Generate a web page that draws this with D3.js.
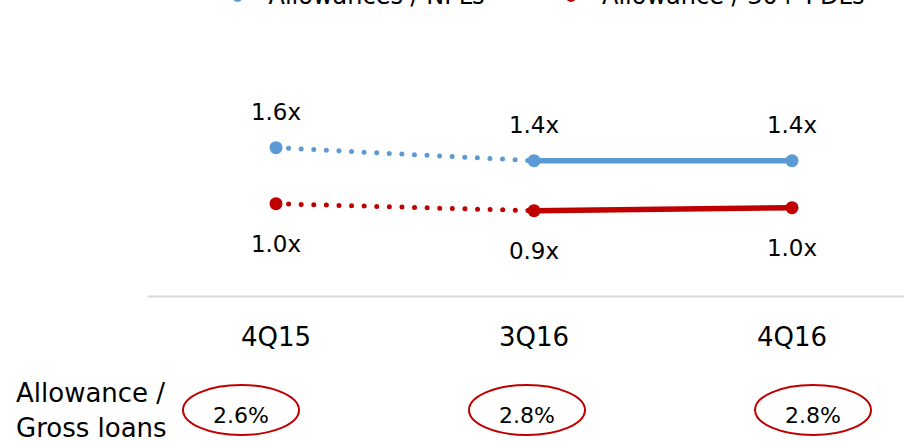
<!DOCTYPE html>
<head>
    <meta charset="utf-8">
    <title>Allowance coverage</title>
    <style>
        body { margin: 0; background: #fff; }
        svg { display: block; font-family: "DejaVu Sans", sans-serif; }
        .lbl { text-anchor: middle; fill: #000; }
    </style>
</head>
<body>
<svg width="904" height="442"></svg>
<script src="https://d3js.org/d3.v7.min.js"></script>
<script>

var quarters = ["4Q15", "3Q16", "4Q16"];
var npl = [1.57, 1.44, 1.44];          // Allowances / NPLs
var pdl = [1.01, 0.94, 0.97];          // Allowance / 30+ PDLs
var grossRatio = [2.6, 2.8, 2.8];      // Allowance / Gross loans, %
var seriesNames = ["Allowances / NPLs", "Allowance / 30+ PDLs"];

var blue = "#5b9bd5", red = "#c00000";

var svg = d3.select("svg");

var x = d3.scaleBand().domain(quarters).range([147, 921]).padding(0);
var y = d3.scaleLinear().domain([0.5, 2.0]).range([254.7, 104.7]);
var xr = d3.scalePoint().domain(quarters).range([241, 813]);

function cx(d, i) { return x(quarters[i]) + x.bandwidth() / 2; }

var series = [
    { name: seriesNames[0], values: npl, color: blue, above: true },
    { name: seriesNames[1], values: pdl, color: red, above: false }
];

// legend (mostly cut off at the top edge, as in the source slide)
var legX = [237.5, 571];
var leg = svg.selectAll(".leg").data(series).enter().append("g")
    .attr("transform", function(d, i) { return "translate(" + legX[i] + ",-3)"; });
leg.append("line").attr("x1", -20).attr("x2", 20)
    .attr("stroke", function(d) { return d.color; }).attr("stroke-width", 5);
leg.append("circle").attr("r", 5).attr("fill", function(d) { return d.color; });
leg.append("text").attr("x", 31).attr("y", 7)
    .style("font-size", "24px")
    .text(function(d) { return d.name; });

// axis
var axis = svg.append("g")
    .attr("transform", "translate(0,296)")
    .call(d3.axisBottom(x).tickSize(0).tickPadding(32));
axis.select(".domain").attr("stroke", "#d9d9d9").attr("stroke-width", 2);
axis.selectAll("text").style("font-size", "26px").style("font-family", "DejaVu Sans").attr("fill", "#000");

// lines: dotted 4Q15 -> 3Q16, solid 3Q16 -> 4Q16
series.forEach(function(s) {
    var pts = s.values.map(function(v, i) { return [cx(v, i), y(v)]; });
    var line = d3.line();
    svg.append("path")
        .attr("d", line(pts.slice(0, 2)))
        .attr("fill", "none").attr("stroke", s.color)
        .attr("stroke-width", 5).attr("stroke-linecap", "round")
        .attr("stroke-dasharray", "0 12.6");
    svg.append("path")
        .attr("d", line(pts.slice(1)))
        .attr("fill", "none").attr("stroke", s.color)
        .attr("stroke-width", 5.5);

    svg.selectAll(null).data(s.values).enter().append("circle")
        .attr("cx", cx).attr("cy", function(d) { return y(d); })
        .attr("r", 6.5).attr("fill", s.color);

    svg.selectAll(null).data(s.values).enter().append("text")
        .attr("class", "lbl")
        .attr("x", cx)
        .attr("y", function(d) { return s.above ? y(d) - 28 : y(d) + 48; })
        .style("font-size", "23px")
        .text(function(d) { return d.toFixed(1) + "x"; });
});

// allowance / gross loans row
svg.append("text").attr("x", 16).attr("y", 401.7).style("font-size", "26px").text("Allowance /");
svg.append("text").attr("x", 16).attr("y", 436.7).style("font-size", "26px").text("Gross loans");

svg.selectAll(".ring").data(grossRatio).enter().append("ellipse")
    .attr("cx", function(d, i) { return xr(quarters[i]); })
    .attr("cy", 410).attr("rx", 58).attr("ry", 25)
    .attr("fill", "none").attr("stroke", red).attr("stroke-width", 2);

svg.selectAll(".ratio").data(grossRatio).enter().append("text")
    .attr("class", "lbl")
    .attr("x", function(d, i) { return xr(quarters[i]); })
    .attr("y", 423)
    .style("font-size", "22px")
    .text(function(d) { return d.toFixed(1) + "%"; });

</script>
</body>
</html>
